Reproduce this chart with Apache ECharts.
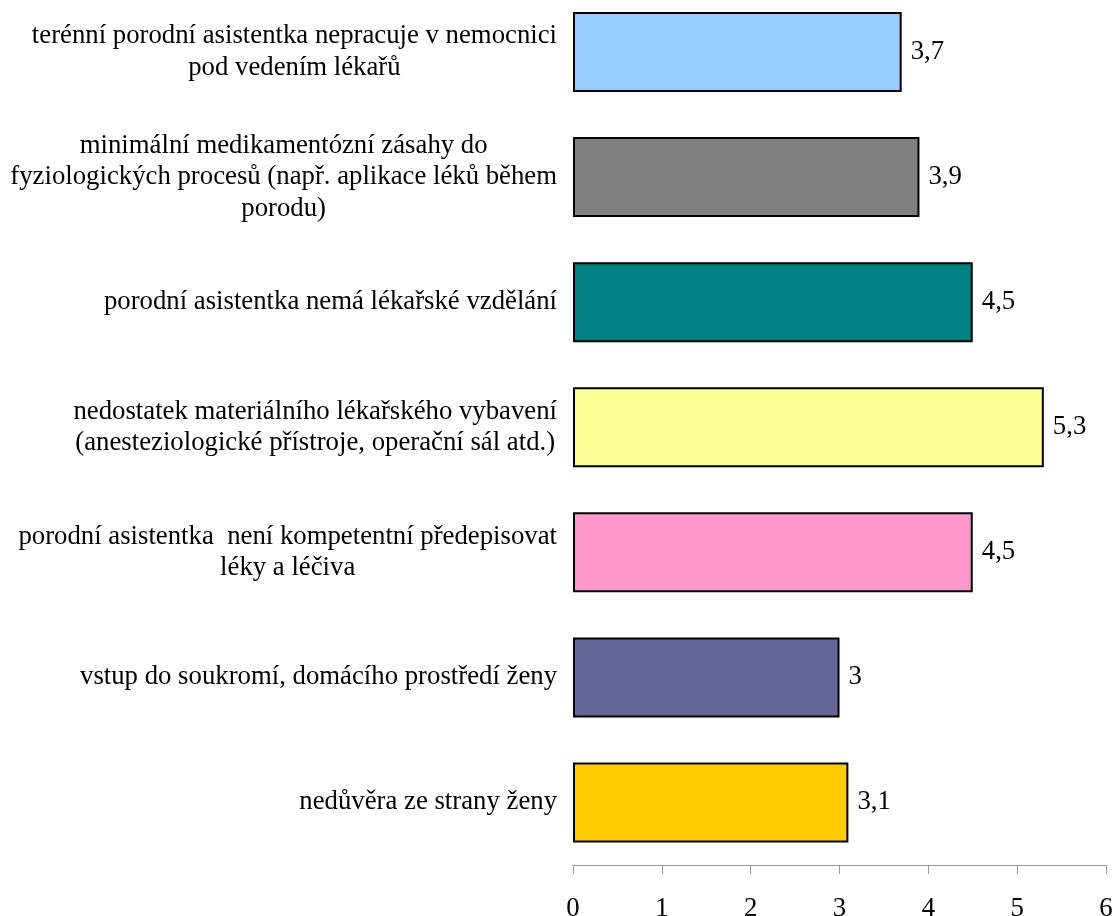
<!DOCTYPE html>
<html>
<head>
<meta charset="utf-8">
<script src="https://cdn.jsdelivr.net/npm/echarts@6/dist/echarts.min.js"></script>
<style>
  html, body { margin: 0; padding: 0; background: #fff; }
  #chart { width: 1117px; height: 916px; }
</style>
</head>
<body>
<div id="chart"></div>
<script>
// Reasons listed top to bottom
const categories = [
  'terénní porodní asistentka nepracuje v nemocnici\npod vedením lékařů',
  'minimální medikamentózní zásahy do\nfyziologických procesů (např. aplikace léků během\nporodu)',
  'porodní asistentka nemá lékařské vzdělání',
  'nedostatek materiálního lékařského vybavení\n(anesteziologické přístroje, operační sál atd.)',
  'porodní asistentka  není kompetentní předepisovat\nléky a léčiva',
  'vstup do soukromí, domácího prostředí ženy',
  'nedůvěra ze strany ženy'
];
const values = [3.7, 3.9, 4.5, 5.3, 4.5, 3, 3.1];
const barColors = ['#99CCFF', '#808080', '#008080', '#FFFF99', '#FF99CC', '#666699', '#FFCC00'];
const xTicks = [0, 1, 2, 3, 4, 5, 6];

const font = '"Liberation Serif", "Times New Roman", serif';
const fontSize = 26.75;
const chart = echarts.init(document.getElementById('chart'));

chart.setOption({
  animation: false,
  backgroundColor: '#ffffff',
  grid: {
    left: 573, right: 11, top: -10.5, bottom: 51,
    containLabel: false,
    outerBoundsMode: 'none'
  },
  xAxis: {
    type: 'value',
    min: xTicks[0],
    max: xTicks[xTicks.length - 1],
    interval: 1,
    splitLine: { show: false },
    axisLine: { show: true, lineStyle: { color: '#999999', width: 1 } },
    axisTick: { show: true, length: 9, lineStyle: { color: '#999999' } },
    axisLabel: { color: '#000', fontFamily: font, fontSize: fontSize, margin: 30 }
  },
  yAxis: {
    type: 'category',
    inverse: true,
    data: categories,
    axisLine: { show: false },
    axisTick: { show: false },
    axisLabel: {
      margin: 16,
      formatter: v => '{c|' + v + '}',
      rich: {
        c: { color: '#000', fontFamily: font, fontSize: fontSize, lineHeight: 31.5, align: 'center' }
      }
    }
  },
  series: [{
    type: 'bar',
    barWidth: 80,
    data: values.map((v, i) => ({
      value: v,
      itemStyle: { color: barColors[i], borderColor: '#000', borderWidth: 2 }
    })),
    label: {
      show: true,
      position: 'right',
      distance: 9,
      color: '#000',
      fontFamily: font,
      fontSize: fontSize,
      formatter: p => String(p.value).replace('.', ',')
    }
  }]
});
</script>
</body>
</html>
